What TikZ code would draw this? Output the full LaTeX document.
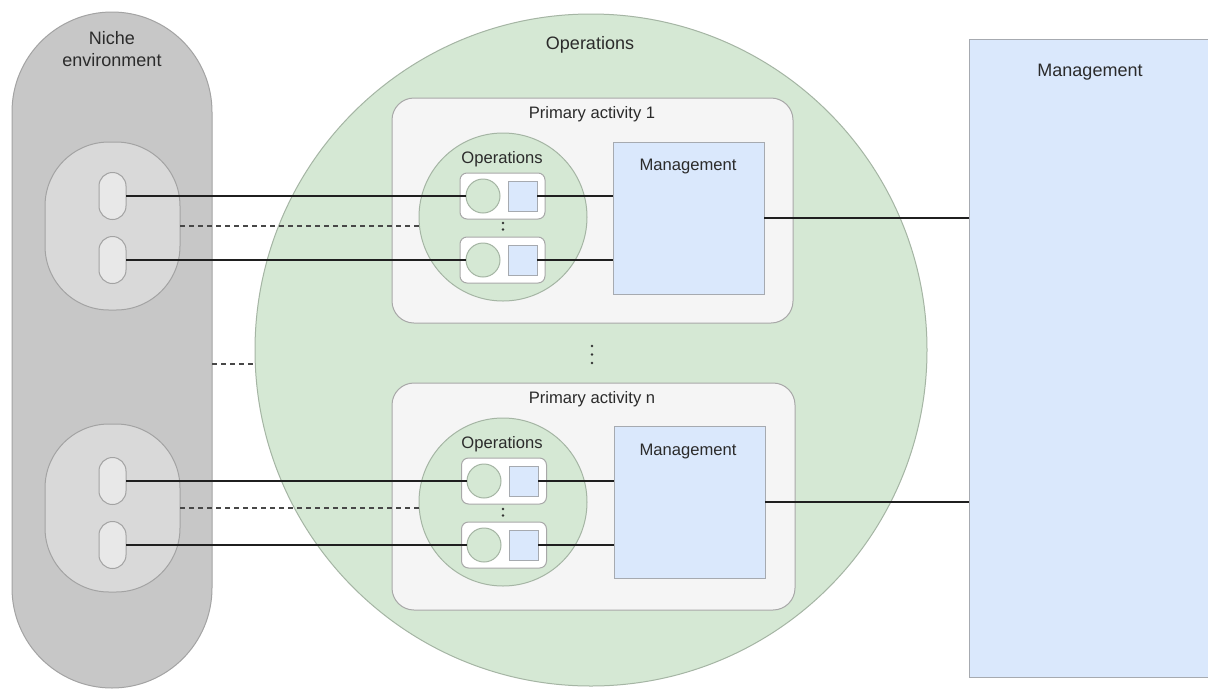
\documentclass[tikz,border=0pt]{standalone}
\usepackage{fontspec}
\setmainfont{Liberation Sans}
\usetikzlibrary{calc}
\definecolor{nichefill}{HTML}{C7C7C7}
\definecolor{nichedraw}{HTML}{A3A3A3}
\definecolor{holefill}{HTML}{D9D9D9}
\definecolor{pillfill}{HTML}{E8E8E8}
\definecolor{opsfill}{HTML}{D5E8D4}
\definecolor{opsdraw}{HTML}{A5B5A4}
\definecolor{actfill}{HTML}{F5F5F5}
\definecolor{actdraw}{HTML}{A8A8A8}
\definecolor{mgmtfill}{HTML}{DAE8FC}
\definecolor{mgmtdraw}{HTML}{A6AAB0}
\definecolor{txt}{HTML}{2B2B2B}
\tikzset{
  shapebase/.style={inner sep=0pt, outer sep=0pt, line width=1pt},
  niche/.style={shapebase, rectangle, fill=nichefill, draw=nichedraw, rounded corners=100pt, minimum width=200pt, minimum height=676pt},
  hole/.style={shapebase, rectangle, fill=holefill, draw=nichedraw, rounded corners=64pt, minimum width=135pt, minimum height=168pt},
  pill/.style={shapebase, rectangle, fill=pillfill, draw=nichedraw, rounded corners=13.5pt, minimum width=27pt, minimum height=47pt},
  opscirc/.style={shapebase, circle, fill=opsfill, draw=opsdraw},
  actbox/.style={shapebase, rectangle, fill=actfill, draw=actdraw, rounded corners=22pt},
  unitbox/.style={shapebase, rectangle, fill=white, draw=actdraw, rounded corners=7pt, minimum width=85pt, minimum height=46pt},
  unitcirc/.style={shapebase, circle, fill=opsfill, draw=opsdraw, minimum size=34pt},
  unitsq/.style={shapebase, rectangle, fill=mgmtfill, draw=mgmtdraw, minimum width=29pt, minimum height=30pt},
  mgmt/.style={shapebase, rectangle, fill=mgmtfill, draw=mgmtdraw},
  biglbl/.style={text=txt, inner sep=0pt, align=center, font=\fontsize{18}{22}\selectfont},
  smalllbl/.style={text=txt, inner sep=0pt, align=center, font=\fontsize{16.6}{20}\selectfont},
  wire/.style={draw=black!88, line width=1.6pt},
  dashwire/.style={draw=black!72, line width=1.4pt, dash pattern=on 5pt off 4pt},
  dotmark/.style={circle, fill=black!80, inner sep=0pt, minimum size=2.6pt}
}
\begin{document}
\begin{tikzpicture}[x=1pt,y=-1pt]
\useasboundingbox (0,0) rectangle (1208,689);
\clip (0,0) rectangle (1208,689);
\fill[white] (0,0) rectangle (1208,689);

% Niche environment with its two pairs of slots
\node[niche] (niche) at (112,350) {};
\node[biglbl] (nicheT) at (112,49) {Niche\\environment};
\node[hole] (e1) at (112.5,226) {};
\node[pill] (p1a) at (112.5,196) {};
\node[pill] (p1b) at (112.5,260) {};
\node[hole] (e2) at (112.5,508) {};
\node[pill] (p2a) at (112.5,481) {};
\node[pill] (p2b) at (112.5,545) {};

% Operations of the whole system
\node[opscirc, minimum size=672pt] (ops) at (591,350) {};
\node[biglbl] (opsT) at (590,45) {Operations};

% Primary activity 1
\node[actbox, minimum width=401pt, minimum height=225pt] (a1) at (592.5,210.5) {};
\node[smalllbl] (a1T) at (592,114) {Primary activity 1};
\node[opscirc, minimum size=168pt] (oc1) at (503,217) {};
\node[smalllbl] (oc1T) at (502,159) {Operations};
\node[unitbox] (u1a) at (502.5,196) {};
\node[unitcirc] (c1a) at (483,196) {};
\node[unitsq] (s1a) at (522.5,196) {};
\node[unitbox] (u1b) at (502.5,260) {};
\node[unitcirc] (c1b) at (483,260) {};
\node[unitsq] (s1b) at (522.5,260) {};
\node[dotmark] (d1a) at (503,223) {};
\node[dotmark] (d1b) at (503,229.5) {};
\node[mgmt, minimum width=151pt, minimum height=152pt] (m1) at (688.5,218) {};
\node[smalllbl] (m1T) at (688,167) {Management};

% Primary activity n
\node[actbox, minimum width=403pt, minimum height=227pt] (a2) at (593.5,496.5) {};
\node[smalllbl] (a2T) at (592,399) {Primary activity n};
\node[opscirc, minimum size=168pt] (oc2) at (503,502) {};
\node[smalllbl] (oc2T) at (502,444) {Operations};
\node[unitbox] (u2a) at (504,481) {};
\node[unitcirc] (c2a) at (484,481) {};
\node[unitsq] (s2a) at (523.5,481) {};
\node[unitbox] (u2b) at (504,545) {};
\node[unitcirc] (c2b) at (484,545) {};
\node[unitsq] (s2b) at (523.5,545) {};
\node[dotmark] (d2a) at (503,509) {};
\node[dotmark] (d2b) at (503,515.5) {};
\node[mgmt, minimum width=151pt, minimum height=152pt] (m2) at (689.5,502) {};
\node[smalllbl] (m2T) at (688,452) {Management};

% Ellipsis between the primary activities
\node[dotmark] (v1) at (592,346) {};
\node[dotmark] (v2) at (592,354.5) {};
\node[dotmark] (v3) at (592,363) {};

% Overall management
\node[mgmt, minimum width=251pt, minimum height=638pt] (M) at (1094.5,358) {};
\node[biglbl] (MT) at (1090,72) {Management};

% Connectors
\draw[wire] (p1a.east) -- (c1a.west);
\draw[wire] (p1b.east) -- (c1b.west);
\draw[wire] (p2a.east) -- (c2a.west);
\draw[wire] (p2b.east) -- (c2b.west);
\draw[wire] (s1a.east) -- (s1a.east -| m1.west);
\draw[wire] (s1b.east) -- (s1b.east -| m1.west);
\draw[wire] (s2a.east) -- (s2a.east -| m2.west);
\draw[wire] (s2b.east) -- (s2b.east -| m2.west);
\draw[wire] (m1.east) -- (m1.east -| M.west);
\draw[wire] (m2.east) -- (m2.east -| M.west);
\draw[dashwire] (e1.east) -- (e1.east -| oc1.west);
\draw[dashwire] (e2.east) -- (e2.east -| oc2.west);
\coordinate (midL) at ($(niche.east)+(0,14)$);
\draw[dashwire] (midL) -- (midL -| ops.west);
\end{tikzpicture}
\end{document}
